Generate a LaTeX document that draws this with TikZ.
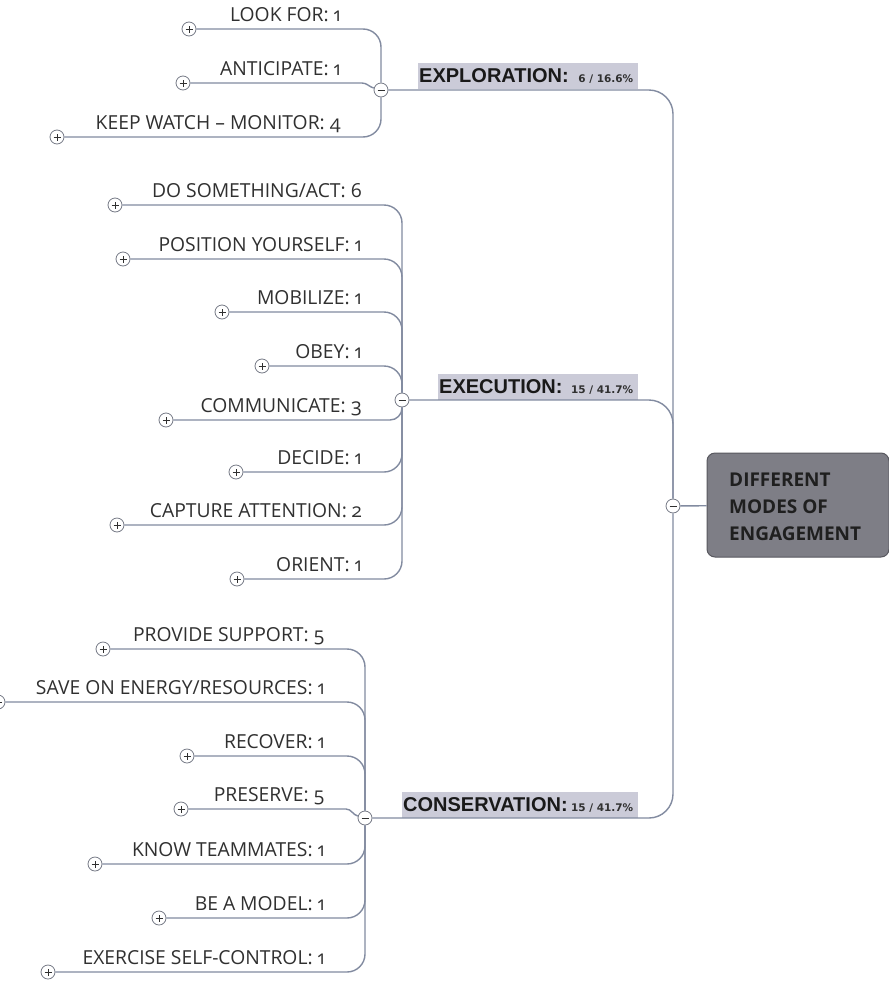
\documentclass[tikz,border=0pt]{standalone}
\usepackage{fontspec}
\setmainfont{Open Sans}
\newfontfamily\branchfont{Liberation Sans}
\newfontfamily\countfont{DejaVu Sans}
\usetikzlibrary{calc}

\definecolor{linkc}{RGB}{130,139,160}
\definecolor{tagfill}{RGB}{203,203,216}
\definecolor{rootfill}{RGB}{126,126,134}
\definecolor{rootedge}{RGB}{88,88,95}
\definecolor{knobedge}{RGB}{118,122,134}
\definecolor{inkc}{RGB}{48,48,48}

% old-style figures for the counts after each leaf
\newcommand\tl[1]{{\addfontfeature{Numbers=OldStyle}#1}}

\begin{document}
\begin{tikzpicture}[x=1pt,y=-1pt,
  conn/.style={draw=linkc, line width=1.4pt, rounded corners=18pt},
  knob/.style={circle, draw=knobedge, fill=white, line width=0.8pt,
    minimum size=14pt, inner sep=0pt},
  expand/.style={knob, path picture={\draw[inkc, line width=0.9pt]
    (path picture bounding box.center) +(-3.5pt,0) -- +(3.5pt,0)
    (path picture bounding box.center) +(0,-3.5pt) -- +(0,3.5pt);}},
  collapse/.style={knob, path picture={\draw[inkc, line width=0.9pt]
    (path picture bounding box.center) +(-3.5pt,0) -- +(3.5pt,0);}},
  leaf/.style={anchor=base east, inner sep=0pt, text=inkc,
    font=\fontsize{19.3}{21}\selectfont},
  tag/.style={anchor=south west, fill=tagfill, inner xsep=1pt, inner ysep=0pt,
    minimum height=26pt, align=left, text=black!90,
    font=\branchfont\bfseries\fontsize{20}{22}\selectfont},
  tally/.style={anchor=base east, inner sep=0pt, text=inkc,
    font=\countfont\bfseries\fontsize{10.5}{12}\selectfont},
  rootbox/.style={rounded corners=8pt, fill=rootfill, draw=rootedge,
    line width=1pt, minimum width=182pt, minimum height=104pt},
  roottitle/.style={anchor=base west, inner sep=0pt, align=left, text=black!88,
    font=\bfseries\fontsize{19}{26.6}\selectfont}
]
\useasboundingbox (0,0) rectangle (889,983);
\fill[white] (0,0) rectangle (889,983);

% ---- root ----
\node[rootbox] (root) at (798,505) {};
\node[roottitle] (roottext) at (729,540) {DIFFERENT\\MODES OF\\ENGAGEMENT};
\node[collapse] (jr) at (673,506) {};

% ---- branch junctions and tags ----
\node[collapse] (jx) at (381,90) {};
\node[collapse] (jy) at (402,400) {};
\node[collapse] (jc) at (365,818) {};

\node[tag, text width=218pt] (tx) at (418,89) {EXPLORATION:};
\node[tally, xshift=-5pt] (txc) at (tx.base -| tx.east) {6 / 16.6\%};
\node[tag, text width=198pt] (ty) at (438,400) {EXECUTION:};
\node[tally, xshift=-5pt] (tyc) at (ty.base -| ty.east) {15 / 41.7\%};
\node[tag, text width=234pt] (tc) at (402,818) {CONSERVATION:};
\node[tally, xshift=-5pt] (tcc) at (tc.base -| tc.east) {15 / 41.7\%};

\draw[conn, rounded corners=24pt] (jx.east) -| (jr);
\draw[conn, rounded corners=24pt] (jy.east) -| (jr);
\draw[conn, rounded corners=24pt] (jc.east) -| (jr);
\draw[conn] (jr) -- (root);

% ---- exploration leaves ----
\node[expand] (x1) at (189,29) {};
\node[leaf] (x1t) at (341,21) {LOOK FOR: \tl{1}};
\node[expand] (x2) at (183,83) {};
\node[leaf] (x2t) at (341,75) {ANTICIPATE: \tl{1}};
\node[expand] (x3) at (57,137) {};
\node[leaf] (x3t) at (341,129) {KEEP WATCH – MONITOR: \tl{4}};
\draw[conn] (x1.east) -| (jx);
\draw[conn, sharp corners] (x2.east) -- (362,83) to[out=0,in=165] (jx);
\draw[conn] (x3.east) -| (jx);

% ---- execution leaves ----
\node[expand] (e1) at (115,205) {};
\node[leaf] (e1t) at (362,197) {DO SOMETHING/ACT: \tl{6}};
\node[expand] (e2) at (123,259) {};
\node[leaf] (e2t) at (362,251) {POSITION YOURSELF: \tl{1}};
\node[expand] (e3) at (222,312) {};
\node[leaf] (e3t) at (362,304) {MOBILIZE: \tl{1}};
\node[expand] (e4) at (262,366) {};
\node[leaf] (e4t) at (362,358) {OBEY: \tl{1}};
\node[expand] (e5) at (166,420) {};
\node[leaf] (e5t) at (362,412) {COMMUNICATE: \tl{3}};
\node[expand] (e6) at (236,472) {};
\node[leaf] (e6t) at (362,464) {DECIDE: \tl{1}};
\node[expand] (e7) at (117,525) {};
\node[leaf] (e7t) at (362,517) {CAPTURE ATTENTION: \tl{2}};
\node[expand] (e8) at (237,579) {};
\node[leaf] (e8t) at (362,571) {ORIENT: \tl{1}};
\foreach \n in {e1,e2,e3,e4,e6,e7,e8} \draw[conn] (\n.east) -| (jy);
\draw[conn, rounded corners=12pt] (e5.east) -| (jy);

% ---- conservation leaves ----
\node[expand] (c1) at (103,649) {};
\node[leaf] (c1t) at (325,641) {PROVIDE SUPPORT: \tl{5}};
\node[expand] (c2) at (-2,702) {};
\node[leaf] (c2t) at (325,694) {SAVE ON ENERGY/RESOURCES: \tl{1}};
\node[expand] (c3) at (187,756) {};
\node[leaf] (c3t) at (325,748) {RECOVER: \tl{1}};
\node[expand] (c4) at (181,809) {};
\node[leaf] (c4t) at (325,801) {PRESERVE: \tl{5}};
\node[expand] (c5) at (95,864) {};
\node[leaf] (c5t) at (325,856) {KNOW TEAMMATES: \tl{1}};
\node[expand] (c6) at (159,918) {};
\node[leaf] (c6t) at (325,910) {BE A MODEL: \tl{1}};
\node[expand] (c7) at (48,972) {};
\node[leaf] (c7t) at (325,964) {EXERCISE SELF-CONTROL: \tl{1}};
\foreach \n in {c1,c2,c3,c5,c6,c7} \draw[conn] (\n.east) -| (jc);
\draw[conn, sharp corners] (c4.east) -- (346,809) to[out=0,in=165] (jc);
\end{tikzpicture}
\end{document}
